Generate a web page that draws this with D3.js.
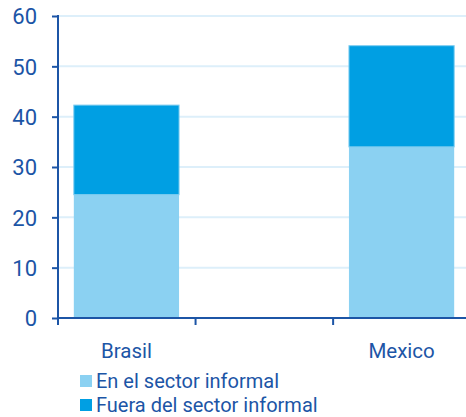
<!DOCTYPE html>
<html><head><meta charset="utf-8">
<script src="https://cdn.jsdelivr.net/npm/d3@7"></script>
<style>body{margin:0;background:#fff}svg{display:block}text{font-family:Roboto,sans-serif}</style>
</head><body><svg width="466" height="417"></svg>
<script>
const categories = ["Brasil", "", "Mexico"];
const informal = [24.5, null, 34.0];
const outside = [17.8, null, 20.1];
const yTicks = [0, 10, 20, 30, 40, 50, 60];
const seriesNames = ["En el sector informal", "Fuera del sector informal"];
const colors = ["#8bd1f2", "#009fe3"];
const axisColor = "#1c55a6";

const svg = d3.select("svg");
const x = d3.scaleBand().domain(categories).range([58, 470]).paddingInner(0.235).paddingOuter(0.115);
const y = d3.scaleLinear().domain([0, 60]).range([318, 16]);

svg.append("g").selectAll("line").data(yTicks.filter(d => d > 0)).join("line")
  .attr("x1", 59).attr("x2", 466).attr("y1", d => y(d)).attr("y2", d => y(d))
  .attr("stroke", "#ddeffa").attr("stroke-width", 2);

const data = categories.map((c, i) => ({c, a: informal[i], b: outside[i]})).filter(d => d.a != null);
const g = svg.append("g");
g.selectAll("rect.a").data(data).join("rect")
  .attr("x", d => x(d.c)).attr("width", x.bandwidth())
  .attr("y", d => y(d.a)).attr("height", d => y(0) - y(d.a))
  .attr("fill", colors[0]);
g.selectAll("rect.b").data(data).join("rect")
  .attr("x", d => x(d.c)).attr("width", x.bandwidth())
  .attr("y", d => y(d.a + d.b)).attr("height", d => y(d.a) - y(d.a + d.b))
  .attr("fill", colors[1]).attr("stroke", "#7fcdf0").attr("stroke-width", 1);

const ya = svg.append("g").attr("transform", "translate(58,0)")
  .call(d3.axisLeft(y).tickValues(yTicks).tickSize(6).tickPadding(15));
ya.select(".domain").attr("stroke", axisColor).attr("stroke-width", 2).attr("d", "M0,15V318");
ya.selectAll(".tick line").attr("stroke", axisColor).attr("stroke-width", 2);
ya.selectAll(".tick text").attr("fill", axisColor).attr("font-size", 22).attr("dy", "0.35em");

const xa = svg.append("g").attr("transform", "translate(0,318)")
  .call(d3.axisBottom(x).tickSize(0).tickPadding(25));
xa.select(".domain").attr("stroke", axisColor).attr("stroke-width", 2).attr("d", "M57,0H466");
xa.selectAll(".tick text").attr("fill", axisColor).attr("font-size", 20.5);
const step = x.step();
const bounds = [58, 58 + step, 58 + 2 * step];
xa.selectAll("line.sep").data(bounds).join("line").attr("class", "sep")
  .attr("x1", d => d).attr("x2", d => d).attr("y1", 0).attr("y2", 7)
  .attr("stroke", axisColor).attr("stroke-width", 2);

const lg = svg.append("g").selectAll("g").data(seriesNames).join("g")
  .attr("transform", (d, i) => `translate(80,${381 + i * 24})`);
lg.append("rect").attr("x", 0).attr("y", -6).attr("width", 12).attr("height", 12).attr("fill", (d, i) => colors[i]);
lg.append("text").attr("x", 16).attr("y", 0).attr("dy", "0.35em").attr("fill", axisColor).attr("font-size", 20).text(d => d);
</script></body></html>
